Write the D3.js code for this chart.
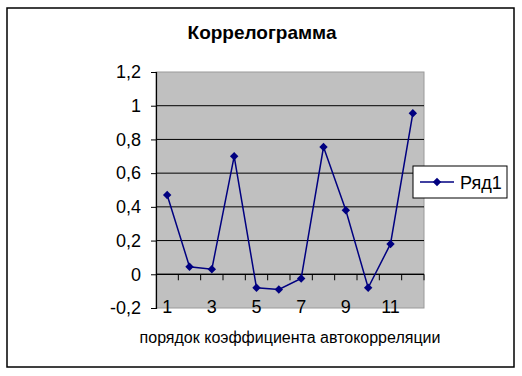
<!DOCTYPE html>
<html>
<head>
<meta charset="utf-8">
<script src="https://cdn.jsdelivr.net/npm/d3@7"></script>
<style>
  body { margin: 0; background: #fff; }
  svg { display: block; font-family: "Liberation Sans", Arial, sans-serif; }
</style>
</head>
<body>
<div id="chart"></div>
<script>
const lags = [1, 2, 3, 4, 5, 6, 7, 8, 9, 10, 11, 12];
const coefs = [0.47, 0.045, 0.03, 0.70, -0.08, -0.09, -0.025, 0.755, 0.38, -0.08, 0.18, 0.955];
const yTicks = [-0.2, 0, 0.2, 0.4, 0.6, 0.8, 1, 1.2];
const xLabelLags = [1, 3, 5, 7, 9, 11];
const seriesName = "Ряд1";

const width = 522, height = 376;
const plot = {left: 156, right: 424, top: 72, bottom: 308};
const fmt = d => d3.format(".1f")(d).replace(".", ",").replace(/,0$/, "").replace("−", "-");

const svg = d3.select("#chart").append("svg")
    .attr("width", width)
    .attr("height", height);

// outer frame
svg.append("rect")
    .attr("x", 7).attr("y", 8)
    .attr("width", 507).attr("height", 359)
    .attr("fill", "#fff")
    .attr("stroke", "#000")
    .attr("stroke-width", 1.5);

svg.append("text")
    .attr("x", 262).attr("y", 39)
    .attr("text-anchor", "middle")
    .attr("font-size", 19)
    .attr("font-weight", "bold")
    .text("Коррелограмма");

const x = d3.scaleBand().domain(lags).range([plot.left, plot.right]);
const y = d3.scaleLinear().domain([-0.2, 1.2]).range([plot.bottom, plot.top]);

svg.append("rect")
    .attr("x", plot.left).attr("y", plot.top)
    .attr("width", plot.right - plot.left).attr("height", plot.bottom - plot.top)
    .attr("fill", "#c0c0c0")
    .attr("stroke", "#9a9a9a")
    .attr("stroke-width", 1);

// grid
svg.append("g")
  .selectAll("line")
  .data(yTicks.filter(d => d > -0.2 && d < 1.2))
  .join("line")
    .attr("x1", plot.left).attr("x2", plot.right)
    .attr("y1", d => y(d)).attr("y2", d => y(d))
    .attr("stroke", "#000")
    .attr("stroke-width", 1);

// y axis
const yAxis = svg.append("g")
    .attr("transform", `translate(${plot.left},0)`)
    .call(d3.axisLeft(y).tickValues(yTicks).tickFormat(fmt).tickSize(5).tickPadding(10));
yAxis.select(".domain").attr("stroke", "#000").attr("stroke-width", 1.2);
yAxis.selectAll("text").attr("font-size", 18).attr("font-family", null).attr("fill", "#000");
yAxis.selectAll(".tick line").attr("stroke", "#000");

// x axis at zero
const bounds = d3.range(1, lags.length + 1).map(i => plot.left + i * x.bandwidth());
svg.append("line")
    .attr("x1", plot.left).attr("x2", plot.right)
    .attr("y1", y(0)).attr("y2", y(0))
    .attr("stroke", "#000").attr("stroke-width", 1.2);
svg.append("g")
  .selectAll("line")
  .data(bounds)
  .join("line")
    .attr("x1", d => d).attr("x2", d => d)
    .attr("y1", y(0)).attr("y2", y(0) + 6)
    .attr("stroke", "#000");

svg.append("g")
  .selectAll("text")
  .data(xLabelLags)
  .join("text")
    .attr("x", d => x(d) + x.bandwidth() / 2)
    .attr("y", 313)
    .attr("text-anchor", "middle")
    .attr("font-size", 18)
    .text(d => d);

// axis titles
svg.append("text")
    .attr("x", 290).attr("y", 343)
    .attr("text-anchor", "middle")
    .attr("font-size", 16)
    .text("порядок коэффициента автокорреляции");

svg.append("clipPath").attr("id", "ytclip")
  .append("rect").attr("x", 40).attr("y", 95).attr("width", 80).attr("height", 220);

[["значение коэффициента", 70], ["автокорреляции", 92]].forEach(([t, cx]) => {
  svg.append("text")
      .attr("clip-path", "url(#ytclip)")
      .attr("transform", `translate(${cx},187) rotate(-90)`)
      .attr("text-anchor", "middle")
      .attr("font-size", 16)
      .text(t);
});

// series
const line = d3.line().x((d, i) => x(lags[i]) + x.bandwidth() / 2).y(d => y(d));
svg.append("path")
    .datum(coefs)
    .attr("d", line)
    .attr("fill", "none")
    .attr("stroke", "#000080")
    .attr("stroke-width", 1.5);

const diamond = d3.symbol().type(d3.symbolDiamond2).size(45);
svg.append("g")
  .selectAll("path")
  .data(coefs)
  .join("path")
    .attr("transform", (d, i) => `translate(${x(lags[i]) + x.bandwidth() / 2},${y(d)})`)
    .attr("d", diamond)
    .attr("fill", "#000080");

// legend
const lg = svg.append("g").attr("transform", "translate(413,166)");
lg.append("rect")
    .attr("width", 94).attr("height", 32)
    .attr("fill", "#fff").attr("stroke", "#000").attr("stroke-width", 1);
lg.append("line")
    .attr("x1", 7).attr("x2", 41).attr("y1", 16).attr("y2", 16)
    .attr("stroke", "#000080").attr("stroke-width", 1.5);
lg.append("path")
    .attr("transform", "translate(24,16)")
    .attr("d", diamond)
    .attr("fill", "#000080");
lg.append("text")
    .attr("x", 47).attr("y", 23)
    .attr("font-size", 18)
    .text(seriesName);
</script>
</body>
</html>
